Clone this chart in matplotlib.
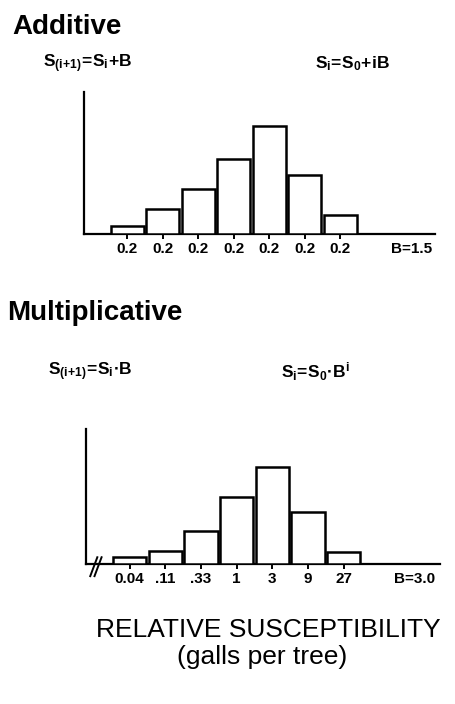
import matplotlib
matplotlib.use('Agg')
import matplotlib.pyplot as plt

plt.rcParams['font.family'] = ['Liberation Sans', 'DejaVu Sans']
plt.rcParams['mathtext.fontset'] = 'custom'
plt.rcParams['mathtext.rm'] = 'Liberation Sans:bold'
plt.rcParams['mathtext.it'] = 'Liberation Sans:bold'
plt.rcParams['mathtext.bf'] = 'Liberation Sans:bold'

# dados (alturas relativas das barras)
aditivo_alturas = [8, 25, 45, 75, 108, 59, 19]
aditivo_rotulos = ['0.2', '0.2', '0.2', '0.2', '0.2', '0.2', '0.2']
aditivo_b = 'B=1.5'

multi_alturas = [7, 13, 33, 67, 97, 52, 12]
multi_rotulos = ['0.04', '.11', '.33', '1', '3', '9', '27']
multi_b = 'B=3.0'

W, H = 456, 704


def eixo_px(fig, x0, x1, y_top, y_base):
    # cria eixo a partir de coordenadas em pixels (origem no topo)
    return fig.add_axes([x0 / W, 1 - y_base / H, (x1 - x0) / W, (y_base - y_top) / H])


def histograma(ax, alturas, rotulos, b_txt, y_lim, x_lim):
    pos = list(range(len(alturas)))
    ax.bar(pos, alturas, width=0.93, color='white', edgecolor='black', linewidth=1.8, zorder=3)
    ax.set_xlim(x_lim)
    ax.set_ylim(y_lim)
    for s in ['top', 'right']:
        ax.spines[s].set_visible(False)
    ax.spines['left'].set_linewidth(1.6)
    ax.spines['bottom'].set_linewidth(1.6)
    ax.set_yticks([])
    # rotulo B= entra como tick extra, sem tracinho
    ax.set_xticks(pos + [len(alturas) + 1])
    ax.set_xticklabels(rotulos + [b_txt], fontweight='bold', fontsize=11)
    ax.tick_params(axis='x', direction='out', length=3.5, width=1.4, pad=2.5)
    ax.xaxis.get_major_ticks()[-1].tick1line.set_visible(False)
    return ax


fig = plt.figure(figsize=(W / 100, H / 100), dpi=100)

# painel aditivo
ax1 = eixo_px(fig, 84, 435, 92, 234)
histograma(ax1, aditivo_alturas, aditivo_rotulos, aditivo_b, [0, 142], [-1.22, 8.66])

# painel multiplicativo
ax2 = eixo_px(fig, 86, 440, 429, 564)
histograma(ax2, multi_alturas, multi_rotulos, multi_b, [0, 135], [-1.22, 8.7])
# marca de quebra no eixo x
for dx in [0.0, 0.012]:
    ax2.plot([0.012 + dx, 0.032 + dx], [-0.09, 0.05], transform=ax2.transAxes,
             color='black', linewidth=1.4, clip_on=False)

fig.text(12 / W, 1 - 27 / H, 'Additive', fontsize=20, fontweight='bold', va='center', ha='left')
fig.text(43 / W, 1 - 64 / H, r'$S_{(i\!+\!1)}\!=\!S_i\!+\!B$', fontsize=12.5, va='center', ha='left')
fig.text(315 / W, 1 - 64 / H, r'$S_i\!=\!S_0\!+\!iB$', fontsize=12.5, va='center', ha='left')

fig.text(7 / W, 1 - 313 / H, 'Multiplicative', fontsize=20, fontweight='bold', va='center', ha='left')
fig.text(48 / W, 1 - 372 / H, r'$S_{(i\!+\!1)}\!=\!S_i\!\bullet\!B$', fontsize=12.5, va='center', ha='left')
fig.text(281 / W, 1 - 372 / H, r'$S_i\!=\!S_0\!\bullet\!B^i$', fontsize=12.5, va='center', ha='left')

fig.text(268 / W, 1 - 630 / H, 'RELATIVE SUSCEPTIBILITY', fontsize=19, va='center', ha='center')
fig.text(262 / W, 1 - 657 / H, '(galls per tree)', fontsize=19, va='center', ha='center')

plt.savefig('out.png', dpi=100)
